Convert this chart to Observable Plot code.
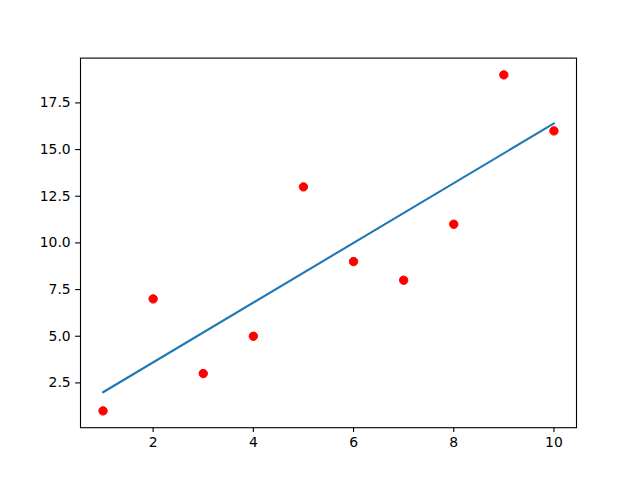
<!DOCTYPE html>
<html>
<head>
<meta charset="utf-8">
<script src="https://cdn.jsdelivr.net/npm/d3@7"></script>
<script src="https://cdn.jsdelivr.net/npm/@observablehq/plot@0.6"></script>
<style>
  html, body { margin: 0; padding: 0; background: #fff; }
  svg { font-family: "DejaVu Sans", sans-serif; }
</style>
</head>
<body>
<div id="chart"></div>
<script>
const xs = [1, 2, 3, 4, 5, 6, 7, 8, 9, 10];
const ys = [1, 7, 3, 5, 13, 9, 8, 11, 19, 16];
const fitX = [1, 10];
const fitY = [2.0, 16.4];
const xTicks = [2, 4, 6, 8, 10];
const yTicks = [2.5, 5.0, 7.5, 10.0, 12.5, 15.0, 17.5];

const points = xs.map((x, i) => ({x, y: ys[i]}));
const fit = fitX.map((x, i) => ({x, y: fitY[i]}));

const chart = Plot.plot({
  width: 640,
  height: 480,
  marginLeft: 80,
  marginRight: 64,
  marginTop: 57.6,
  marginBottom: 52.8,
  style: {fontFamily: "DejaVu Sans, sans-serif", fontSize: "13.9px", color: "black", background: "white"},
  x: {domain: [0.55, 10.45], ticks: xTicks, tickFormat: d3.format("d"), label: null},
  y: {domain: [0.1, 19.9], ticks: yTicks, tickFormat: d3.format(".1f"), label: null},
  marks: [
    Plot.dot(points, {x: "x", y: "y", r: 4.2, fill: "red", stroke: "red", strokeWidth: 1}),
    Plot.line(fit, {x: "x", y: "y", stroke: "#1f77b4", strokeWidth: 2.08}),
    Plot.frame({stroke: "black", strokeWidth: 1.1}),
    Plot.axisX({ticks: xTicks, tickFormat: d3.format("d"), tickSize: 4.9, tickPadding: 4.9, strokeWidth: 1.1, label: null}),
    Plot.axisY({ticks: yTicks, tickFormat: d3.format(".1f"), tickSize: 4.9, tickPadding: 4.9, strokeWidth: 1.1, label: null})
  ]
});
document.getElementById("chart").appendChild(chart);
</script>
</body>
</html>
